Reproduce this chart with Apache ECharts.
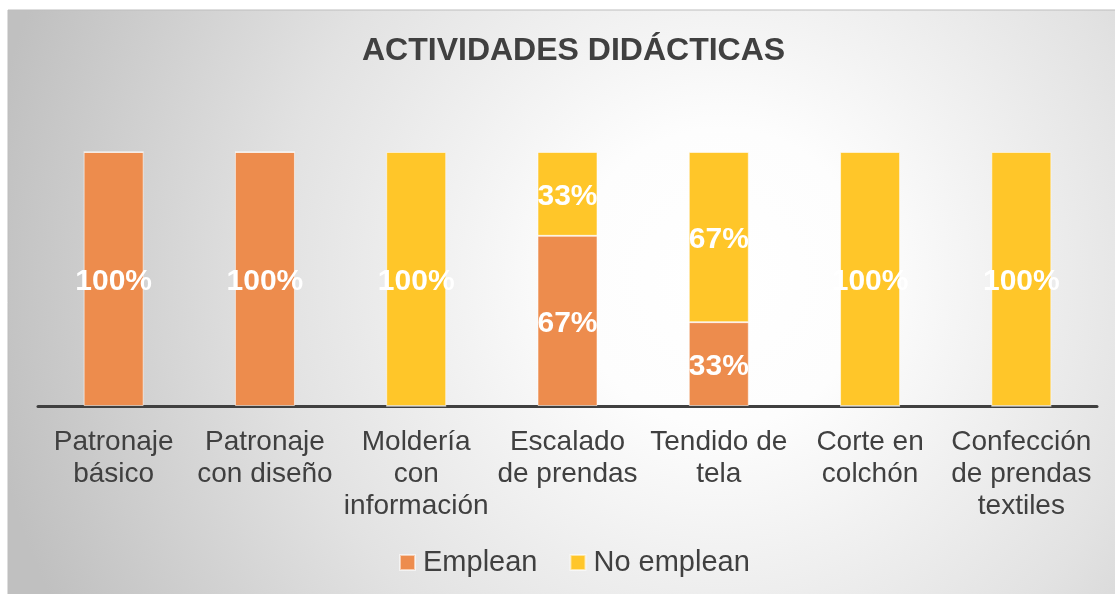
<!DOCTYPE html>
<html>
<head>
<meta charset="utf-8">
<script src="https://cdn.jsdelivr.net/npm/echarts@6/dist/echarts.min.js"></script>
<style>
  html, body { margin: 0; padding: 0; background: #ffffff; }
  #chart { width: 1115px; height: 594px; }
</style>
</head>
<body>
<div id="chart"></div>
<script>
// datos
const categories = [
  'Patronaje\nbásico',
  'Patronaje\ncon diseño',
  'Moldería\ncon\ninformación',
  'Escalado\nde prendas',
  'Tendido de\ntela',
  'Corte en\ncolchón',
  'Confección\nde prendas\ntextiles'
];
const seriesNames = ['Emplean', 'No emplean'];
const emplean = [100, 100, 0, 67, 33, 0, 0];
const noEmplean = [0, 0, 100, 33, 67, 100, 100];

const FONT = '"Liberation Sans", Arial, sans-serif';
const TEXT = '#404040';

const chart = echarts.init(document.getElementById('chart'));

const barLabel = {
  show: true,
  position: 'inside',
  offset: [0, 3],
  color: '#ffffff',
  fontFamily: FONT,
  fontWeight: 'bold',
  fontSize: 30,
  formatter: p => (p.value ? p.value + '%' : '')
};

chart.setOption({
  animation: false,
  graphic: [{
    type: 'rect',
    z: -10,
    silent: true,
    shape: { x: 8, y: 10, width: 1115, height: 594 },
    style: {
      fill: new echarts.graphic.RadialGradient(0.64, 0.45, 1.25, [
        { offset: 0, color: '#ffffff' },
        { offset: 0.2, color: '#fdfdfd' },
        { offset: 0.6, color: '#e2e2e2' },
        { offset: 1, color: '#c0c0c0' }
      ]),
      stroke: '#bdbdbd',
      lineWidth: 1
    }
  }],
  title: {
    text: 'ACTIVIDADES DIDÁCTICAS',
    left: 357,
    top: 30,
    textStyle: { fontFamily: FONT, fontWeight: 'bold', fontSize: 32, color: TEXT }
  },
  legend: {
    data: seriesNames,
    top: 548,
    left: 399,
    padding: 0,
    itemWidth: 15,
    itemHeight: 15,
    itemGap: 32,
    icon: 'rect',
    textStyle: { fontFamily: FONT, fontSize: 29, color: TEXT, padding: [0, 0, 0, 3] }
  },
  grid: { left: 38, right: 18, top: 152, bottom: 188 },
  xAxis: {
    type: 'category',
    data: categories,
    axisTick: { show: false },
    axisLine: { lineStyle: { color: '#404040', width: 3 } },
    axisLabel: {
      interval: 0,
      margin: 20,
      fontFamily: FONT,
      fontSize: 28,
      lineHeight: 32,
      color: TEXT,
      align: 'center'
    }
  },
  yAxis: {
    type: 'value',
    min: 0,
    max: 100,
    show: false,
    splitLine: { show: false }
  },
  series: [
    {
      name: seriesNames[0],
      type: 'bar',
      stack: 'total',
      barWidth: 60,
      data: emplean,
      itemStyle: { color: '#ED8C4D', borderColor: 'rgba(255,255,255,0.55)', borderWidth: 1 },
      label: barLabel
    },
    {
      name: seriesNames[1],
      type: 'bar',
      stack: 'total',
      barWidth: 60,
      data: noEmplean,
      itemStyle: { color: '#FFC629', borderColor: 'rgba(255,255,255,0.55)', borderWidth: 1 },
      label: barLabel
    }
  ]
});
</script>
</body>
</html>
